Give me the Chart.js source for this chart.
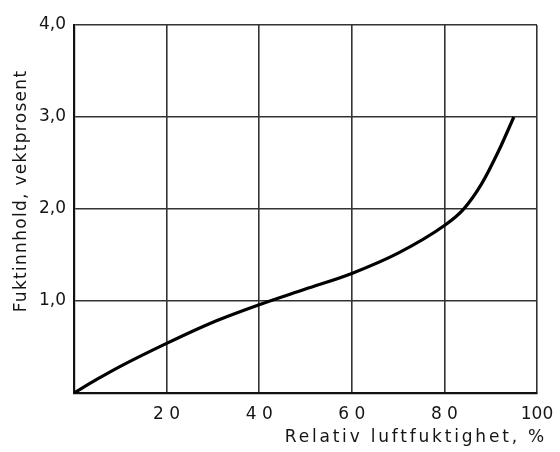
<!DOCTYPE html>
<html>
<head>
<meta charset="utf-8">
<script src="https://cdn.jsdelivr.net/npm/chart.js@4"></script>
<style>
  html, body { margin: 0; padding: 0; background: #fff; }
  #wrap { width: 560px; height: 452px; }
</style>
</head>
<body>
<div id="wrap"><canvas id="chart" width="560" height="452"></canvas></div>
<script>
// Sorption curve: moisture content vs relative humidity
const humidity = [0, 5, 10, 20, 30, 40, 50, 60, 70, 80, 84, 88, 91.7, 95];
const moisture = [0, 0.15, 0.29, 0.54, 0.77, 0.96, 1.13, 1.3, 1.52, 1.82, 1.99, 2.27, 2.63, 3.0];

const xTicks = [20, 40, 60, 80, 100];
const xTickLabels = ['2 0', '4 0', '6 0', '8 0', '100'];
const yTicks = [1, 2, 3, 4];
const yTickLabels = ['1,0', '2,0', '3,0', '4,0'];

const FONT = 'DejaVu Sans';
const TEXT = '#151515';
const points = humidity.map((h, i) => ({ x: h, y: moisture[i] }));

// wide technical lettering for the axis titles
function spacedTitle(scale, spacing, shiftX, shiftY) {
  const orig = Object.getPrototypeOf(scale).drawTitle;
  scale.drawTitle = function () {
    const ctx = this.ctx;
    ctx.save();
    ctx.letterSpacing = spacing;
    ctx.translate(shiftX, shiftY);
    orig.call(this);
    ctx.restore();
  };
}

new Chart(document.getElementById('chart'), {
  type: 'line',
  data: {
    datasets: [{
      data: points,
      borderColor: '#000',
      borderWidth: 3.2,
      pointRadius: 0,
      cubicInterpolationMode: 'monotone',
      fill: false
    }]
  },
  options: {
    responsive: false,
    animation: false,
    layout: { padding: { left: 0, right: 23, top: 25, bottom: 0 } },
    plugins: { legend: { display: false }, tooltip: { enabled: false } },
    scales: {
      x: {
        type: 'linear',
        min: 0,
        max: 100,
        afterFit: (s) => {
          s.height = 59;
          s.paddingLeft = 0;
          s.paddingRight = 0;
          spacedTitle(s, '2.8px', 10, 0);
        },
        ticks: {
          stepSize: 20,
          padding: 11,
          color: TEXT,
          font: { family: FONT, size: 17 },
          callback: (v) => {
            const i = xTicks.indexOf(v);
            return i < 0 ? '' : xTickLabels[i];
          }
        },
        grid: { color: '#333', lineWidth: 1.6, drawTicks: false },
        border: { color: '#111', width: 2.2 },
        title: {
          display: true,
          text: 'Relativ luftfuktighet, %',
          align: 'end',
          color: TEXT,
          font: { family: FONT, size: 17 },
          padding: { top: 10 }
        }
      },
      y: {
        min: 0,
        max: 4,
        afterFit: (s) => {
          s.width = 74;
          s.paddingTop = 0;
          s.paddingBottom = 0;
          spacedTitle(s, '1.3px', 0, -18);
        },
        ticks: {
          stepSize: 1,
          padding: 8,
          color: TEXT,
          font: { family: FONT, size: 17 },
          callback: (v) => {
            const i = yTicks.indexOf(v);
            return i < 0 ? '' : yTickLabels[i];
          }
        },
        grid: { color: '#333', lineWidth: 1.6, drawTicks: false },
        border: { color: '#111', width: 2.2 },
        title: {
          display: true,
          text: 'Fuktinnhold, vektprosent',
          color: TEXT,
          font: { family: FONT, size: 17 },
          padding: { top: 11 }
        }
      }
    }
  }
});
</script>
</body>
</html>
